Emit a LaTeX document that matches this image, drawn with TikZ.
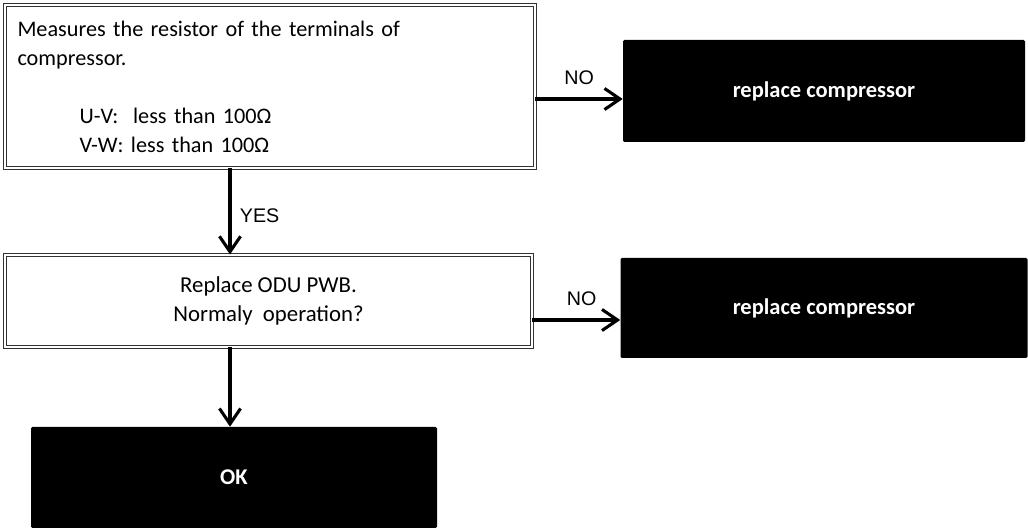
\documentclass[tikz,border=0pt]{standalone}
\usepackage{fontspec}
\setmainfont{Carlito}
\newfontfamily\labelfont{Liberation Sans}
\usetikzlibrary{arrows.meta,positioning}

\begin{document}
\begin{tikzpicture}[
  x=0.025cm, y=-0.025cm,
  >={Straight Barb[length=11pt,width=15pt,line width=2.2pt]},
  check box/.style={draw=black!80, line width=0.7pt,
                    double=white, double distance=1.1pt, inner sep=0pt,
                    font=\fontsize{15.8}{20.6}\selectfont},
  end box/.style={fill=black, rounded corners=1pt, text=white,
                  font=\fontsize{16}{20}\selectfont\bfseries},
  flow/.style={->, line width=2.2pt},
  lbl/.style={font=\labelfont\fontsize{14}{17}\selectfont, inner sep=1pt},
]
  %% Page frame
  \useasboundingbox (0,0) rectangle (1028,530);

  %% Check boxes
  \node[check box, minimum width=530*0.025cm, minimum height=163*0.025cm,
        text width=505*0.025cm, align=left] (measure) at (270,86.5)
    {Measures the resistor of the terminals of\\
     compressor.\\[20.6pt]
     \hspace*{1.55cm}U-V:\ \ less than 100Ω\\
     \hspace*{1.55cm}V-W: less than 100Ω};
  \node[check box, font=\fontsize{16.2}{21}\selectfont,
        minimum width=527*0.025cm, minimum height=92*0.025cm,
        align=center] (pwb) at (268.5,301)
    {Replace ODU PWB.\\ Normaly\ \ operation?};

  %% Result boxes
  \node[end box, minimum width=402*0.025cm, minimum height=102*0.025cm]
    (comp1) at (824,91) {replace compressor};
  \node[end box, minimum width=407*0.025cm, minimum height=100*0.025cm]
    (comp2) at (824,308) {replace compressor};
  \node[end box, minimum width=406*0.025cm, minimum height=101*0.025cm]
    (ok) at (234,477.5) {OK};

  %% Connectors
  \draw[flow] (measure.east |- 0,99) -- (comp1.west |- 0,99)
    node[lbl, pos=0.5, above=8pt] {NO};
  \draw[flow] (measure.south -| 230,0) -- (pwb.north -| 230,0)
    node[lbl, pos=0.55, right=5pt] {YES};
  \draw[flow] (pwb.east |- 0,320) -- (comp2.west |- 0,320)
    node[lbl, pos=0.56, above=8pt] {NO};
  \draw[flow] (pwb.south -| 230,0) -- (ok.north -| 230,0);
\end{tikzpicture}
\end{document}
